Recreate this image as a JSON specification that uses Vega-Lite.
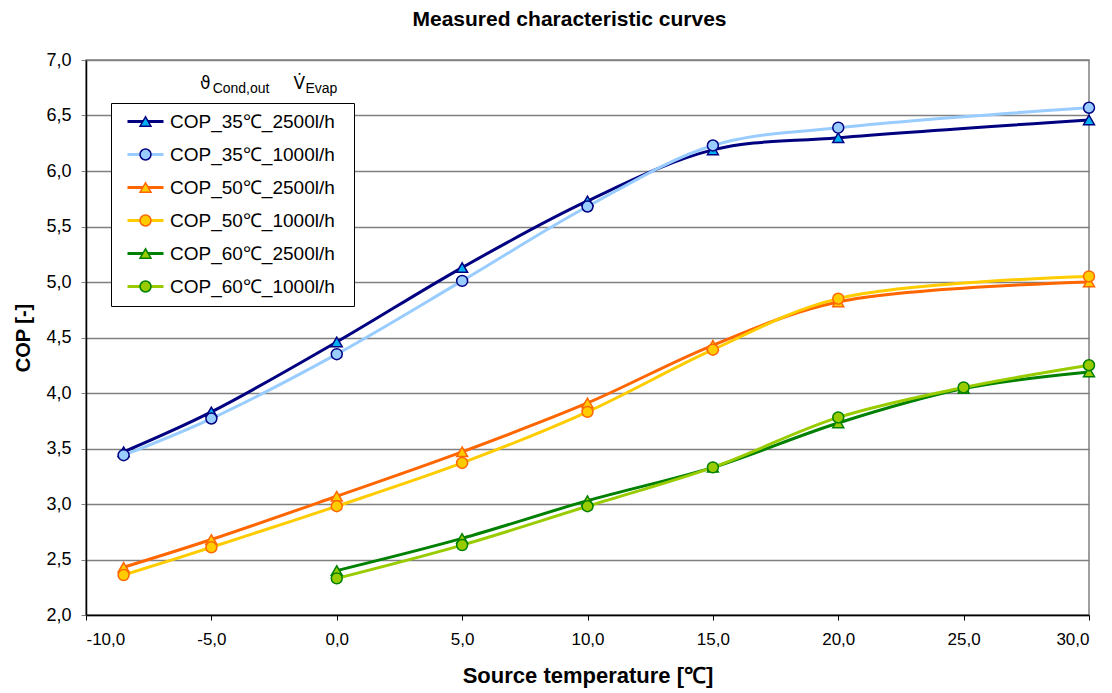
{
  "$schema": "https://vega.github.io/schema/vega-lite/v6.json",
  "width": 1003,
  "height": 555,
  "autosize": {"type": "none"},
  "padding": {"left": 86, "top": 60, "right": 23, "bottom": 78},
  "background": "white",
  "config": {
    "locale": {"number": {"decimal": ",", "thousands": ".", "grouping": [3], "currency": ["", " €"], "minus": "-"}},
    "font": "Liberation Sans",
    "view": {"stroke": "#808080", "strokeWidth": 1.5}
  },
  "title": {
    "text": "Measured characteristic curves",
    "font": "Liberation Sans",
    "fontSize": 21,
    "fontWeight": "bold",
    "color": "#000000",
    "offset": 21,
    "dx": -18
  },
  "datasets": {
    "cop": [
      {"temp": -8.5, "cop": 3.47, "series": "COP_35℃_2500l/h"},
      {"temp": -5, "cop": 3.83, "series": "COP_35℃_2500l/h"},
      {"temp": 0, "cop": 4.46, "series": "COP_35℃_2500l/h"},
      {"temp": 5, "cop": 5.13, "series": "COP_35℃_2500l/h"},
      {"temp": 10, "cop": 5.73, "series": "COP_35℃_2500l/h"},
      {"temp": 15, "cop": 6.19, "series": "COP_35℃_2500l/h"},
      {"temp": 20, "cop": 6.30, "series": "COP_35℃_2500l/h"},
      {"temp": 30, "cop": 6.46, "series": "COP_35℃_2500l/h"},
      {"temp": -8.5, "cop": 3.44, "series": "COP_35℃_1000l/h"},
      {"temp": -5, "cop": 3.77, "series": "COP_35℃_1000l/h"},
      {"temp": 0, "cop": 4.35, "series": "COP_35℃_1000l/h"},
      {"temp": 5, "cop": 5.01, "series": "COP_35℃_1000l/h"},
      {"temp": 10, "cop": 5.68, "series": "COP_35℃_1000l/h"},
      {"temp": 15, "cop": 6.23, "series": "COP_35℃_1000l/h"},
      {"temp": 20, "cop": 6.39, "series": "COP_35℃_1000l/h"},
      {"temp": 30, "cop": 6.57, "series": "COP_35℃_1000l/h"},
      {"temp": -8.5, "cop": 2.43, "series": "COP_50℃_2500l/h"},
      {"temp": -5, "cop": 2.68, "series": "COP_50℃_2500l/h"},
      {"temp": 0, "cop": 3.07, "series": "COP_50℃_2500l/h"},
      {"temp": 5, "cop": 3.47, "series": "COP_50℃_2500l/h"},
      {"temp": 10, "cop": 3.91, "series": "COP_50℃_2500l/h"},
      {"temp": 15, "cop": 4.43, "series": "COP_50℃_2500l/h"},
      {"temp": 20, "cop": 4.82, "series": "COP_50℃_2500l/h"},
      {"temp": 30, "cop": 5.00, "series": "COP_50℃_2500l/h"},
      {"temp": -8.5, "cop": 2.36, "series": "COP_50℃_1000l/h"},
      {"temp": -5, "cop": 2.61, "series": "COP_50℃_1000l/h"},
      {"temp": 0, "cop": 2.98, "series": "COP_50℃_1000l/h"},
      {"temp": 5, "cop": 3.37, "series": "COP_50℃_1000l/h"},
      {"temp": 10, "cop": 3.83, "series": "COP_50℃_1000l/h"},
      {"temp": 15, "cop": 4.39, "series": "COP_50℃_1000l/h"},
      {"temp": 20, "cop": 4.85, "series": "COP_50℃_1000l/h"},
      {"temp": 30, "cop": 5.05, "series": "COP_50℃_1000l/h"},
      {"temp": 0, "cop": 2.40, "series": "COP_60℃_2500l/h"},
      {"temp": 5, "cop": 2.69, "series": "COP_60℃_2500l/h"},
      {"temp": 10, "cop": 3.03, "series": "COP_60℃_2500l/h"},
      {"temp": 15, "cop": 3.33, "series": "COP_60℃_2500l/h"},
      {"temp": 20, "cop": 3.73, "series": "COP_60℃_2500l/h"},
      {"temp": 25, "cop": 4.04, "series": "COP_60℃_2500l/h"},
      {"temp": 30, "cop": 4.19, "series": "COP_60℃_2500l/h"},
      {"temp": 0, "cop": 2.33, "series": "COP_60℃_1000l/h"},
      {"temp": 5, "cop": 2.63, "series": "COP_60℃_1000l/h"},
      {"temp": 10, "cop": 2.98, "series": "COP_60℃_1000l/h"},
      {"temp": 15, "cop": 3.33, "series": "COP_60℃_1000l/h"},
      {"temp": 20, "cop": 3.78, "series": "COP_60℃_1000l/h"},
      {"temp": 25, "cop": 4.05, "series": "COP_60℃_1000l/h"},
      {"temp": 30, "cop": 4.25, "series": "COP_60℃_1000l/h"}
    ],
    "hdrMain": [
      {"temp": -5.45, "cop": 6.785, "label": "ϑ"},
      {"temp": -1.72, "cop": 6.785, "label": "V̇"}
    ],
    "hdrSub": [
      {"temp": -4.95, "cop": 6.735, "label": "Cond,out"},
      {"temp": -1.25, "cop": 6.735, "label": "Evap"}
    ]
  },
  "encoding": {
    "x": {
      "field": "temp",
      "type": "quantitative",
      "scale": {"domain": [-10, 30], "nice": false, "zero": false},
      "axis": {
        "title": "Source temperature [℃]",
        "values": [-10, -5, 0, 5, 10, 15, 20, 25, 30],
        "format": ".1f",
        "grid": false,
        "domainColor": "#000000",
        "domainWidth": 1.5,
        "tickColor": "#000000",
        "tickSize": 5,
        "labelFont": "Liberation Sans",
        "labelFontSize": 17,
        "labelColor": "#000000",
        "labelPadding": 11,
        "titleFont": "Liberation Sans",
        "titleFontSize": 22,
        "titleFontWeight": "bold",
        "titleColor": "#000000",
        "titlePadding": 18
      }
    },
    "y": {
      "field": "cop",
      "type": "quantitative",
      "scale": {"domain": [2, 7], "nice": false, "zero": false},
      "axis": {
        "title": "COP [-]",
        "values": [2, 2.5, 3, 3.5, 4, 4.5, 5, 5.5, 6, 6.5, 7],
        "format": ".1f",
        "grid": true,
        "gridColor": "#808080",
        "gridWidth": 1.3,
        "domainColor": "#000000",
        "domainWidth": 1.5,
        "tickColor": "#808080",
        "tickSize": 5,
        "labelFont": "Liberation Sans",
        "labelFontSize": 18,
        "labelColor": "#000000",
        "labelPadding": 10,
        "titleFont": "Liberation Sans",
        "titleFontSize": 20,
        "titleFontWeight": "bold",
        "titleColor": "#000000",
        "titlePadding": 12
      }
    }
  },
  "layer": [
    {
      "data": {"name": "cop"},
      "mark": {"type": "line", "interpolate": "catmull-rom", "strokeWidth": 3},
      "encoding": {
        "color": {
          "field": "series",
          "type": "nominal",
          "scale": {
            "domain": ["COP_35℃_2500l/h", "COP_35℃_1000l/h", "COP_50℃_2500l/h", "COP_50℃_1000l/h", "COP_60℃_2500l/h", "COP_60℃_1000l/h"],
            "range": ["#000080", "#99ccff", "#ff6600", "#ffcc00", "#008000", "#99cc00"]
          },
          "legend": {
            "orient": "none",
            "legendX": 25,
            "legendY": 43,
            "title": "x",
            "titleOrient": "right",
            "titleOpacity": 0,
            "titleFontSize": 10,
            "titlePadding": 4,
            "symbolType": "M-3,0H3",
            "symbolSize": 144,
            "symbolStrokeWidth": 3,
            "symbolOffset": 16,
            "labelFont": "Liberation Sans",
            "labelFontSize": 19,
            "labelColor": "#000000",
            "labelOffset": 15,
            "labelLimit": 400,
            "rowPadding": 13,
            "padding": 9,
            "strokeColor": "#000000",
            "fillColor": "#ffffff",
            "zindex": 1
          }
        }
      }
    },
    {
      "data": {"name": "cop"},
      "mark": {"type": "point", "filled": true, "size": 120, "strokeWidth": 1.5, "opacity": 1},
      "encoding": {
        "shape": {
          "field": "series",
          "type": "nominal",
          "sort": null,
          "scale": {"range": ["triangle-up", "circle", "triangle-up", "circle", "triangle-up", "circle"]},
          "legend": {
            "orient": "none",
            "legendX": 25,
            "legendY": 43,
            "title": null,
            "symbolSize": 120,
            "symbolStrokeWidth": 1.5,
            "symbolOffset": 16,
            "labelFont": "Liberation Sans",
            "labelFontSize": 19,
            "labelOpacity": 0,
            "labelOffset": 15,
            "labelLimit": 400,
            "rowPadding": 13,
            "padding": 9,
            "zindex": 2
          }
        },
        "fill": {
          "field": "series",
          "type": "nominal",
          "sort": null,
          "scale": {"range": ["#00b0f0", "#99ccff", "#ffcc00", "#ffcc00", "#99cc00", "#99cc00"]}
        },
        "stroke": {
          "field": "series",
          "type": "nominal",
          "sort": null,
          "scale": {"range": ["#000080", "#000080", "#ff6600", "#ff6600", "#008000", "#008000"]}
        }
      }
    },
    {
      "data": {"name": "hdrMain"},
      "mark": {"type": "text", "align": "left", "baseline": "middle", "fontSize": 17, "font": "DejaVu Sans", "color": "#000000"},
      "encoding": {"text": {"field": "label"}}
    },
    {
      "data": {"name": "hdrSub"},
      "mark": {"type": "text", "align": "left", "baseline": "middle", "fontSize": 14, "font": "Liberation Sans", "color": "#000000"},
      "encoding": {"text": {"field": "label"}}
    }
  ]
}
